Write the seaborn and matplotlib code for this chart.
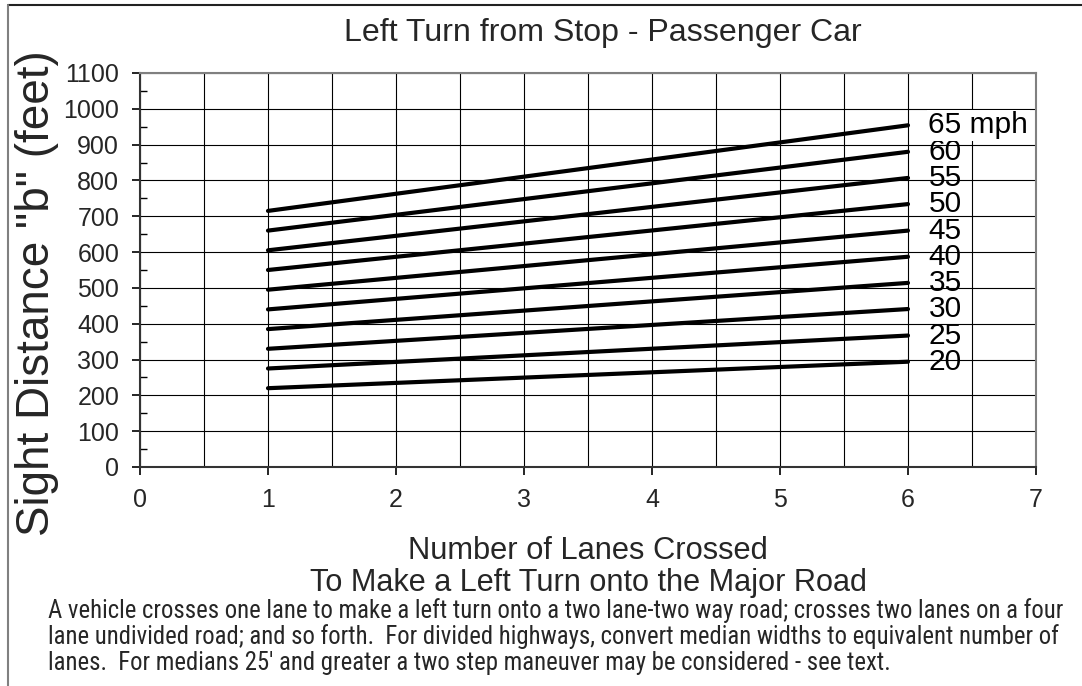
import matplotlib
matplotlib.use("Agg")
import matplotlib.pyplot as plt
from matplotlib.lines import Line2D
from matplotlib.ticker import MultipleLocator
from matplotlib import font_manager
from matplotlib.font_manager import FontProperties
import seaborn as sns
import pandas as pd

# ---- data ----
speeds = [20, 25, 30, 35, 40, 45, 50, 55, 60, 65]
lanes = [1, 6]
dist_1_lane = [220, 275, 330, 385, 440, 495, 550, 605, 660, 715]
dist_6_lanes = [294, 367, 441, 514, 587, 660, 734, 807, 880, 954]
speed_labels = ["20", "25", "30", "35", "40", "45", "50", "55", "60", "65 mph"]

title = "Left Turn from Stop - Passenger Car"
xlabel1 = "Number of Lanes Crossed"
xlabel2 = "To Make a Left Turn onto the Major Road"
ylabel = 'Sight Distance "b" (feet)'
footnote = [
    "A vehicle crosses one lane to make a left turn onto a two lane-two way road; crosses two lanes on a four",
    "lane undivided road; and so forth.  For divided highways, convert median widths to equivalent number of",
    "lanes.  For medians 25' and greater a two step maneuver may be considered - see text.",
]

rows = []
for s, a, b in zip(speeds, dist_1_lane, dist_6_lanes):
    rows.append({"speed": s, "lanes": lanes[0], "dist": a})
    rows.append({"speed": s, "lanes": lanes[1], "dist": b})
df = pd.DataFrame(rows)

sns.set_theme(style="white")
plt.rcParams["font.family"] = ["Liberation Sans", "DejaVu Sans"]


def find_condensed():
    cands = []
    for f in font_manager.fontManager.ttflist:
        nm = f.name
        st = str(f.stretch).lower()
        fn = f.fname.lower()
        is_cond = ("narrow" in nm.lower() or "condensed" in nm.lower()
                   or "condensed" in st or "narrow" in fn or "condensed" in fn)
        if not is_cond:
            continue
        if f.style != "normal":
            continue
        if str(f.weight).lower() not in ("400", "normal", "regular", "book"):
            continue
        if "mono" in nm.lower() or "serif" in nm.lower() and "sans" not in nm.lower():
            continue
        if "semi" in fn or "extra" in fn or "ultra" in fn:
            pri = 5
        elif "liberation" in nm.lower():
            pri = 0
        elif "roboto" in nm.lower():
            pri = 1
        elif "noto sans" in nm.lower() and "cjk" not in nm.lower():
            pri = 2
        elif "dejavu sans" in nm.lower():
            pri = 3
        else:
            pri = 4
        cands.append((pri, f.fname))
    if cands:
        cands.sort()
        return FontProperties(fname=cands[0][1])
    return FontProperties(family="Liberation Sans")


foot_fp = find_condensed()

W, H = 1082, 686
fig = plt.figure(figsize=(W / 100, H / 100), dpi=100)
fig.patch.set_facecolor("white")

ax = fig.add_axes([140 / W, 1 - 467 / H, (1036 - 140) / W, (467 - 73) / H])

sns.lineplot(data=df, x="lanes", y="dist", hue="speed",
             palette=["black"] * len(speeds), linewidth=3.0,
             legend=False, ax=ax, solid_capstyle="round", zorder=5)

ax.set_xlim(0, 7)
ax.set_ylim(0, 1100)
ax.xaxis.set_major_locator(MultipleLocator(1))
ax.xaxis.set_minor_locator(MultipleLocator(0.5))
ax.yaxis.set_major_locator(MultipleLocator(100))
ax.yaxis.set_minor_locator(MultipleLocator(50))
ax.grid(True, which="major", axis="both", color="black", linewidth=0.8)
ax.grid(True, which="minor", axis="x", color="black", linewidth=0.8)
ax.set_axisbelow(True)

ax.tick_params(axis="x", which="major", direction="out", length=6, width=1.2,
               color="black", labelsize=18, pad=9, bottom=True)
ax.tick_params(axis="x", which="minor", length=0)
ax.tick_params(axis="y", which="major", direction="out", length=6, width=1.2,
               color="black", labelsize=18, pad=9, left=True)
ax.tick_params(axis="y", which="minor", direction="in", length=5, width=1.0,
               color="black", left=True)
ax.set_xlabel("")
ax.set_ylabel("")

for side in ["top", "right"]:
    ax.spines[side].set_color("#808080")
    ax.spines[side].set_linewidth(1.5)
for side in ["left", "bottom"]:
    ax.spines[side].set_color("#333333")
    ax.spines[side].set_linewidth(1.5)

# speed labels at the line ends
for lab, v in zip(speed_labels, dist_6_lanes):
    kw = {}
    if "mph" in lab:
        kw["bbox"] = dict(facecolor="white", edgecolor="none", pad=1.0)
    ax.text(6.16, v, lab, ha="left", va="center", fontsize=21.5,
            color="black", zorder=6, **kw)

renderer = fig.canvas.get_renderer()


def fit(t, target_px):
    bb = t.get_window_extent(renderer=renderer)
    w = bb.width if t.get_rotation() == 0 else bb.height
    t.set_fontsize(t.get_fontsize() * target_px / w)


def fx(px):
    return px / W


def fy(py):
    return 1 - py / H


t_title = fig.text(fx(603), fy(33), title, ha="center", va="center", fontsize=20)
fit(t_title, 516)
t_x1 = fig.text(fx(588), fy(551), xlabel1, ha="center", va="center", fontsize=20)
fit(t_x1, 360)
t_x2 = fig.text(fx(588), fy(583), xlabel2, ha="center", va="center", fontsize=20)
fit(t_x2, 556)
t_y = fig.text(fx(37), fy(293), ylabel, ha="center", va="center",
               rotation=90, fontsize=30)
fit(t_y, 484)

foot_y = [611, 637, 663]
fsize = 13
for i, (line, yy) in enumerate(zip(footnote, foot_y)):
    fp = foot_fp.copy()
    fp.set_size(fsize)
    t = fig.text(fx(48), fy(yy), line, ha="left", va="center",
                 fontproperties=fp)
    if i == 0:
        fit(t, 1012)
        fsize = t.get_fontsize()

# figure border (top and left)
fig.add_artist(Line2D([fx(8), 1], [fy(5), fy(5)], color="#222222", linewidth=1.5,
                      transform=fig.transFigure))
fig.add_artist(Line2D([fx(8), fx(8)], [0, fy(5)], color="#808080", linewidth=1.5,
                      transform=fig.transFigure))

fig.savefig("out.png", dpi=100, facecolor="white")
